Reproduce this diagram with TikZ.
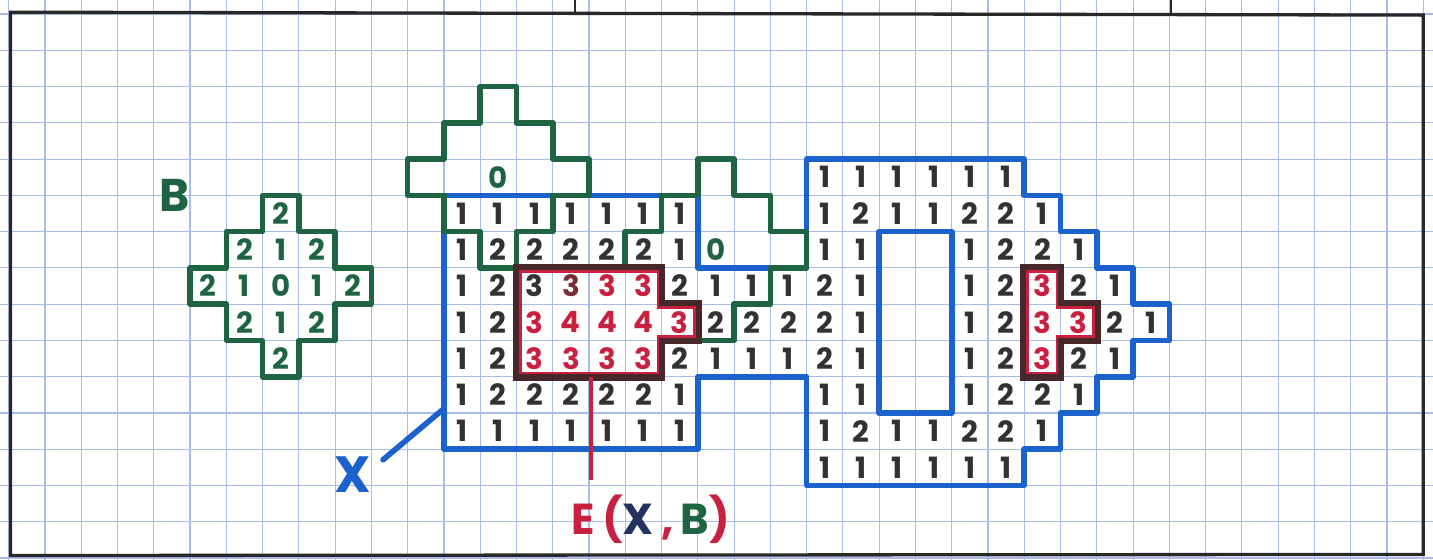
\documentclass[tikz,border=0pt]{standalone}
\usepackage{fontspec}
\setmainfont{Poppins}
\usetikzlibrary{calc}
\definecolor{gridc}{RGB}{168,188,236}
\definecolor{xblue}{RGB}{28,98,205}
\definecolor{bgreen}{RGB}{30,100,66}
\definecolor{ered}{RGB}{200,32,62}
\definecolor{edark}{RGB}{70,40,42}
\definecolor{digc}{RGB}{50,50,52}
\definecolor{digbr}{RGB}{120,45,50}
\definecolor{navy}{RGB}{35,50,95}
\definecolor{framec}{RGB}{40,40,40}
\newcommand{\drow}[4][dig]{\foreach \v [count=\i from #3] in {#4} {\node[#1] (d\i-#2) at (\i+0.5,#2+0.5) {\v};}}
\begin{document}
\begin{tikzpicture}[x=0.5cm,y=-0.5cm,
  gridline/.style={draw=gridc,line width=0.45pt},
  frameline/.style={draw=framec,line width=1.3pt},
  xline/.style={draw=xblue,line width=2.2pt,line join=round,line cap=round},
  bline/.style={draw=bgreen,line width=2.2pt,line join=round,line cap=round},
  eouter/.style={draw=edark,line width=3pt,line join=miter},
  einner/.style={draw=ered,line width=1.1pt,line join=miter},
  dig/.style={font=\fontsize{11.5}{11.5}\selectfont\bfseries,text=digc,inner sep=0pt},
  digred/.style={dig,text=ered},
  digbrown/.style={dig,text=digbr},
  diggr/.style={dig,text=bgreen},
  biglabel/.style={font=\fontsize{18}{18}\selectfont\bfseries,inner sep=0pt}]
\useasboundingbox (-0.24,-0.386) rectangle (39.27,15.04);
\fill[white] (-0.24,-0.386) rectangle (39.27,15.04);
% grid
\foreach \gx in {0,...,39} \draw[gridline] (\gx,-0.386) -- (\gx,15.04);
\foreach \gy in {0,...,15} \draw[gridline] (-0.24,\gy) -- (39.27,\gy);
% frame
\draw[frameline] (0.05,-0.05) -- (39,0.03) -- (39,14.9) -- (0.05,14.93) -- cycle;
\draw[frameline,line width=0.8pt] (15.61,-0.386) -- (15.61,-0.05);
\draw[frameline,line width=0.8pt] (32.05,-0.386) -- (32.05,0.02);
% X outline
\draw[xline] (12,5) -- (19,5) -- (19,7) -- (22,7) -- (22,4) -- (28,4) -- (28,5) -- (29,5) -- (29,6) -- (30,6) -- (30,7) -- (31,7) -- (31,8) -- (32,8) -- (32,9) -- (31,9) -- (31,10) -- (30,10) -- (30,11) -- (29,11) -- (29,12) -- (28,12) -- (28,13) -- (22,13) -- (22,10) -- (19,10) -- (19,12) -- (12,12) -- cycle;
\draw[xline] (24,6) rectangle (26,11);
% B outline
\draw[bline] (7,5) -- (8,5) -- (8,6) -- (9,6) -- (9,7) -- (10,7) -- (10,8) -- (9,8) -- (9,9) -- (8,9) -- (8,10) -- (7,10) -- (7,9) -- (6,9) -- (6,8) -- (5,8) -- (5,7) -- (6,7) -- (6,6) -- (7,6) -- cycle;
% translated B (center 13,4)
\draw[bline] (13,2) -- (14,2) -- (14,3) -- (15,3) -- (15,4) -- (16,4) -- (16,5) -- (15,5) -- (15,6) -- (14,6) -- (14,7) -- (13,7) -- (13,6) -- (12,6) -- (12,5) -- (11,5) -- (11,4) -- (12,4) -- (12,3) -- (13,3) -- cycle;
% translated B (center 19,6)
\draw[bline] (19,4) -- (20,4) -- (20,5) -- (21,5) -- (21,6) -- (22,6) -- (22,7) -- (21,7) -- (21,8) -- (20,8) -- (20,9) -- (19,9) -- (19,8) -- (18,8) -- (18,7) -- (17,7) -- (17,6) -- (18,6) -- (18,5) -- (19,5) -- cycle;
% E regions
\draw[eouter] (14,7) -- (18,7) -- (18,8) -- (19,8) -- (19,9) -- (18,9) -- (18,10) -- (14,10) -- cycle;
\draw[einner] (14.1,7.1) -- (17.9,7.1) -- (17.9,8.1) -- (18.9,8.1) -- (18.9,8.9) -- (17.9,8.9) -- (17.9,9.9) -- (14.1,9.9) -- cycle;
\draw[eouter] (28,7) -- (29,7) -- (29,8) -- (30,8) -- (30,9) -- (29,9) -- (29,10) -- (28,10) -- cycle;
\draw[einner] (28.1,7.1) -- (28.9,7.1) -- (28.9,8.1) -- (29.9,8.1) -- (29.9,8.9) -- (28.9,8.9) -- (28.9,9.9) -- (28.1,9.9) -- cycle;
% digits: B
\drow[diggr]{5}{7}{2}
\drow[diggr]{6}{6}{2,1,2}
\drow[diggr]{7}{5}{2,1,0,1,2}
\drow[diggr]{8}{6}{2,1,2}
\drow[diggr]{9}{7}{2}
\drow[diggr]{4}{13}{0}
\drow[diggr]{6}{19}{0}
% digits: X
\drow{4}{22}{1,1,1,1,1,1}
\drow{5}{12}{1,1,1,1,1,1,1}
\drow{5}{22}{1,2,1,1,2,2,1}
\drow{6}{12}{1,2,2,2,2,2,1}
\drow{6}{22}{1,1}
\drow{6}{26}{1,2,2,1}
\drow{7}{12}{1,2,3}
\drow[digbrown]{7}{15}{3}
\drow[digred]{7}{16}{3,3}
\drow{7}{18}{2,1,1,1,2,1}
\drow{7}{26}{1,2}
\drow[digred]{7}{28}{3}
\drow{7}{29}{2,1}
\drow{8}{12}{1,2}
\drow[digred]{8}{14}{3,4,4,4,3}
\drow{8}{19}{2,2,2,2,1}
\drow{8}{26}{1,2}
\drow[digred]{8}{28}{3,3}
\drow{8}{30}{2,1}
\drow{9}{12}{1,2}
\drow[digred]{9}{14}{3,3,3,3}
\drow{9}{18}{2,1,1,1,2,1}
\drow{9}{26}{1,2}
\drow[digred]{9}{28}{3}
\drow{9}{29}{2,1}
\drow{10}{12}{1,2,2,2,2,2,1}
\drow{10}{22}{1,1}
\drow{10}{26}{1,2,2,1}
\drow{11}{12}{1,1,1,1,1,1,1}
\drow{11}{22}{1,2,1,1,2,2,1}
\drow{12}{22}{1,1,1,1,1,1}
% labels
\node[biglabel,text=bgreen] (Blab) at (4.58,4.99) {B};
\node[biglabel,text=xblue,font=\fontsize{20}{20}\selectfont\bfseries] (Xlab) at (9.49,12.7) {X};
\coordinate (xe) at (12,10.88);
\coordinate (xend) at (10.32,12.29);
\draw[xline] (xe) -- (xend);
\node[biglabel,font=\fontsize{17}{17}\selectfont\bfseries] (Elab) at (17.7,13.94) {\textcolor{ered}{E\,(}\textcolor{navy}{X}\textcolor{ered}{\,,}\,\textcolor{bgreen}{B}\textcolor{ered}{)}};
\coordinate (es) at (16.05,10);
\coordinate (ee) at (16.05,12.85);
\draw[draw=ered,line width=1.4pt] (es) -- (ee);
\end{tikzpicture}
\end{document}
